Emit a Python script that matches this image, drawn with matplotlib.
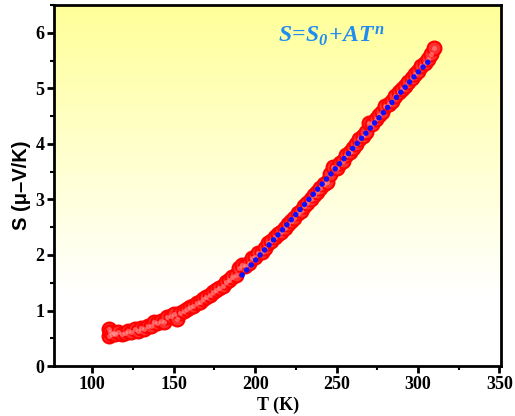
import numpy as np
import matplotlib
matplotlib.use("Agg")
import matplotlib.pyplot as plt
from matplotlib.ticker import MultipleLocator

plt.rcParams['mathtext.fontset'] = 'custom'
plt.rcParams['mathtext.rm'] = 'Liberation Serif:bold:italic'
plt.rcParams['mathtext.it'] = 'Liberation Serif:bold:italic'

# measured data (T in K, S in uV/K)
T_data = [110, 110, 111, 112, 113, 114, 116, 118, 120, 122, 124, 126, 128, 130,
          132, 134, 136, 138, 140, 142, 144, 146, 148, 150, 152, 154, 156, 158,
          160, 162, 164, 166, 168, 170, 172, 174, 176, 178, 180, 182, 184, 186,
          188, 190, 192, 194, 196, 198, 200, 202, 204, 206, 208, 210, 212, 214,
          216, 218, 220, 222, 224, 226, 228, 230, 232, 234, 236, 238, 240, 242,
          244, 246, 248, 250, 252, 254, 256, 258, 260, 262, 264, 266, 268, 270,
          272, 274, 276, 278, 280, 282, 284, 286, 288, 290, 292, 294, 296, 298,
          300, 302, 304, 306, 308, 310]
S_data = [0.55, 0.66, 0.62, 0.58, 0.60, 0.57, 0.61, 0.58, 0.60, 0.63, 0.62, 0.66, 0.64, 0.68,
          0.66, 0.72, 0.73, 0.79, 0.78, 0.82, 0.80, 0.88, 0.90, 0.93, 0.84, 0.95, 0.99, 1.03,
          1.06, 1.09, 1.13, 1.16, 1.20, 1.25, 1.28, 1.33, 1.37, 1.40, 1.45, 1.51, 1.55, 1.60,
          1.64, 1.76, 1.82, 1.80, 1.86, 1.94, 1.96, 2.03, 2.06, 2.13, 2.21, 2.25, 2.33, 2.37,
          2.41, 2.49, 2.56, 2.61, 2.67, 2.76, 2.80, 2.88, 2.93, 3.00, 3.08, 3.13, 3.20, 3.28,
          3.32, 3.45, 3.58, 3.56, 3.65, 3.70, 3.80, 3.85, 3.93, 4.00, 4.08, 4.15, 4.22, 4.38,
          4.36, 4.44, 4.52, 4.58, 4.68, 4.72, 4.78, 4.86, 4.94, 4.98, 5.05, 5.12, 5.18, 5.25,
          5.32, 5.40, 5.45, 5.52, 5.62, 5.73]

# fitted curve S = S0 + A T^n
T_fit = [192, 200, 210, 220, 230, 240, 250, 260, 270, 280, 290, 300, 306]
S_fit = [1.64, 1.90, 2.23, 2.56, 2.90, 3.24, 3.58, 3.92, 4.26, 4.61, 4.95, 5.29, 5.47]

fig = plt.figure(figsize=(5.15, 4.16), dpi=100)
ax = fig.add_axes([0.105, 0.12, 0.868, 0.868])

# yellow (top) -> white (bottom) background
f = np.linspace(0, 1, 256)
b = np.clip(1.1 - 0.5 * f, 0.6, 1.0)
grad = np.dstack([np.ones_like(f), np.ones_like(f), b]).reshape(256, 1, 3)
ax.imshow(grad, extent=[0, 1, 0, 1], transform=ax.transAxes, aspect='auto',
          origin='lower', zorder=0)

ax.plot(T_data, S_data, 'o', ms=10, mfc='#ff3030', mec='#ff0000', mew=1.5, zorder=2)
ax.plot(T_data, S_data, 'o', ms=3.5, mfc='#ffa0a0', mec='none', alpha=0.55, zorder=3)
ax.plot(T_fit, S_fit, color='#1010ff', lw=4, ls=(0, (0.01, 1.2)),
        dash_capstyle='round', zorder=4)

ax.set_xlim(76.5, 351)
ax.set_ylim(0, 6.5)
ax.xaxis.set_major_locator(MultipleLocator(50))
ax.xaxis.set_minor_locator(MultipleLocator(25))
ax.yaxis.set_major_locator(MultipleLocator(1))
ax.yaxis.set_minor_locator(MultipleLocator(0.5))
ax.tick_params(which='major', direction='out', length=5, width=2, pad=2)
ax.tick_params(which='minor', direction='out', length=3, width=1.5)
for s in ax.spines.values():
    s.set_linewidth(2)
for lab in ax.get_xticklabels() + ax.get_yticklabels():
    lab.set_family('Liberation Serif')
    lab.set_fontweight('bold')
    lab.set_fontsize(13)

ax.set_xlabel('T (K)', family='Liberation Serif', fontweight='bold', fontsize=13, labelpad=2.5)
ax.set_ylabel('S (\u03bc\u2013V/K)', family='Liberation Sans', fontweight='bold', fontsize=14.5, labelpad=3)

ax.text(247, 5.95, r'$S\!=\!S_0\!+\!AT^n$', color='#1e8cf0', fontsize=17, ha='center', va='center')

fig.savefig('out.png', dpi=100)
